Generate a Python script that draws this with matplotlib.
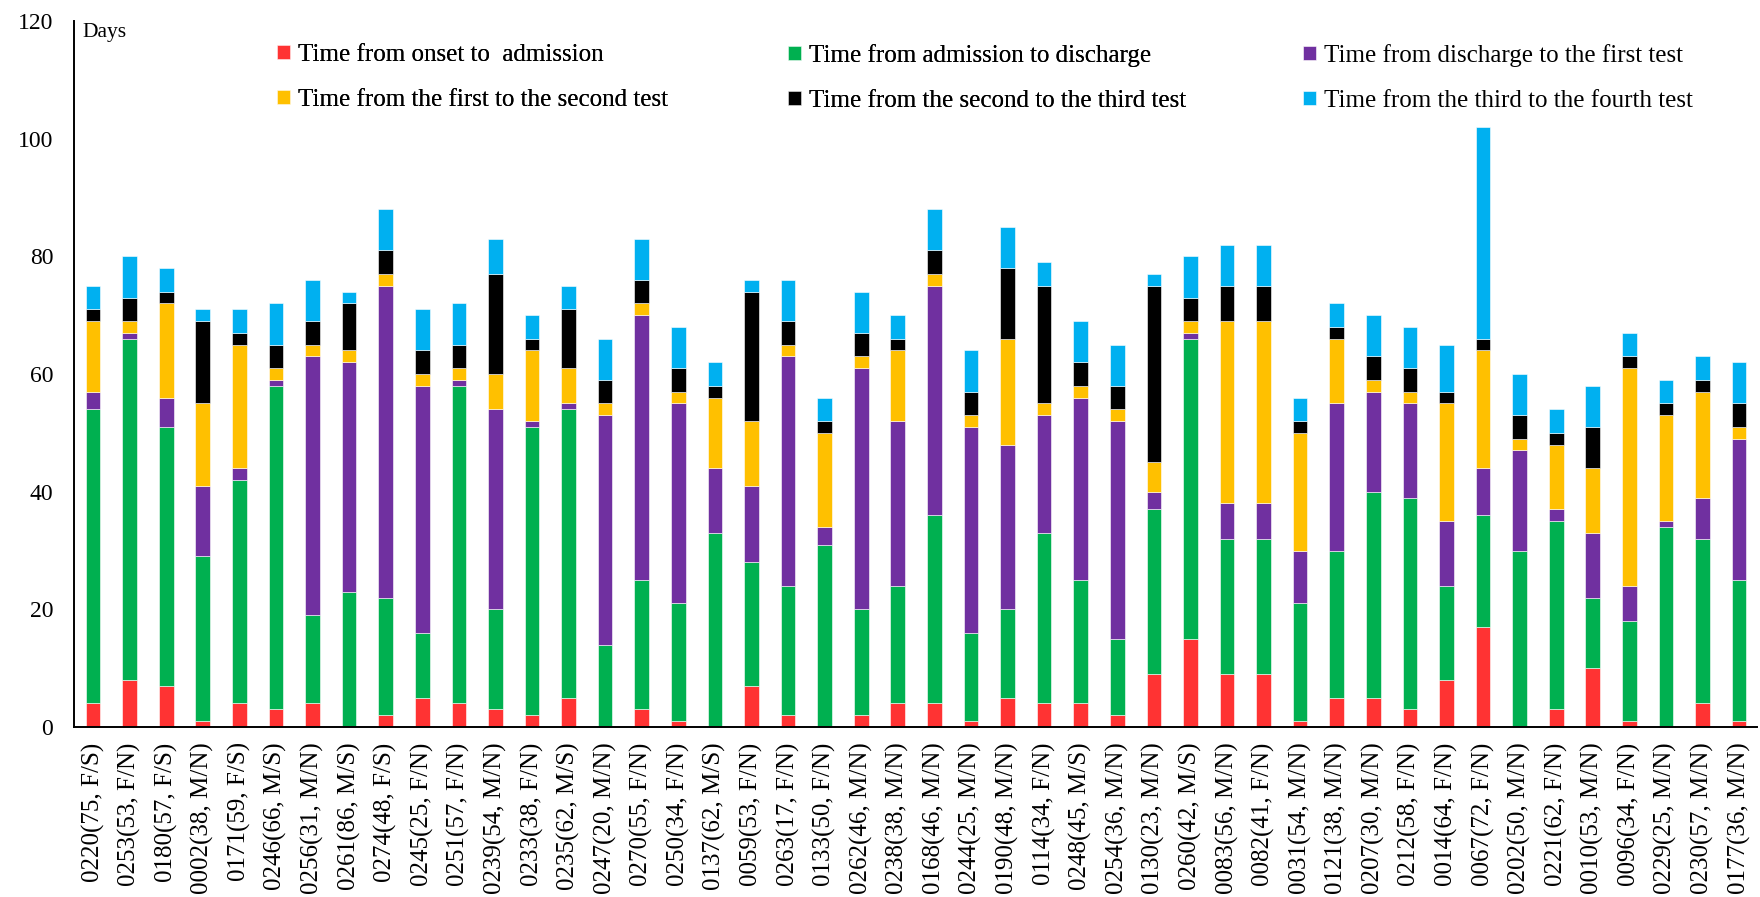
import matplotlib
matplotlib.use("Agg")
import matplotlib.pyplot as plt
from matplotlib.patches import Patch
import numpy as np

# patient labels (id(age, sex/severity))
patients = [
    "0220(75, F/S)", "0253(53, F/N)", "0180(57, F/S)", "0002(38, M/N)", "0171(59, F/S)",
    "0246(66, M/S)", "0256(31, M/N)", "0261(86, M/S)", "0274(48, F/S)", "0245(25, F/N)",
    "0251(57, F/N)", "0239(54, M/N)", "0233(38, F/N)", "0235(62, M/S)", "0247(20, M/N)",
    "0270(55, F/N)", "0250(34, F/N)", "0137(62, M/S)", "0059(53, F/N)", "0263(17, F/N)",
    "0133(50, F/N)", "0262(46, M/N)", "0238(38, M/N)", "0168(46, M/N)", "0244(25, M/N)",
    "0190(48, M/N)", "0114(34, F/N)", "0248(45, M/S)", "0254(36, M/N)", "0130(23, M/N)",
    "0260(42, M/S)", "0083(56, M/N)", "0082(41, F/N)", "0031(54, M/N)", "0121(38, M/N)",
    "0207(30, M/N)", "0212(58, F/N)", "0014(64, F/N)", "0067(72, F/N)", "0202(50, M/N)",
    "0221(62, F/N)", "0010(53, M/N)", "0096(34, F/N)", "0229(25, M/N)", "0230(57, M/N)",
    "0177(36, M/N)",
]

# days in each interval
onset_admission = [4, 8, 7, 1, 4, 3, 4, 0, 2, 5, 4, 3, 2, 5, 0, 3, 1, 0, 7, 2, 0, 2, 4,
                   4, 1, 5, 4, 4, 2, 9, 15, 9, 9, 1, 5, 5, 3, 8, 17, 0, 3, 10, 1, 0, 4, 1]
admission_discharge = [50, 58, 44, 28, 38, 55, 15, 23, 20, 11, 54, 17, 49, 49, 14, 22, 20,
                       33, 21, 22, 31, 18, 20, 32, 15, 15, 29, 21, 13, 28, 51, 23, 23, 20,
                       25, 35, 36, 16, 19, 30, 32, 12, 17, 34, 28, 24]
discharge_first = [3, 1, 5, 12, 2, 1, 44, 39, 53, 42, 1, 34, 1, 1, 39, 45, 34, 11, 13, 39,
                   3, 41, 28, 39, 35, 28, 20, 31, 37, 3, 1, 6, 6, 9, 25, 17, 16, 11, 8, 17,
                   2, 11, 6, 1, 7, 24]
first_second = [12, 2, 16, 14, 21, 2, 2, 2, 2, 2, 2, 6, 12, 6, 2, 2, 2, 12, 11, 2, 16, 2,
                12, 2, 2, 18, 2, 2, 2, 5, 2, 31, 31, 20, 11, 2, 2, 20, 20, 2, 11, 11, 37,
                18, 18, 2]
second_third = [2, 4, 2, 14, 2, 4, 4, 8, 4, 4, 4, 17, 2, 10, 4, 4, 4, 2, 22, 4, 2, 4, 2,
                4, 4, 12, 20, 4, 4, 30, 4, 6, 6, 2, 2, 4, 4, 2, 2, 4, 2, 7, 2, 2, 2, 4]
third_fourth = [4, 7, 4, 2, 4, 7, 7, 2, 7, 7, 7, 6, 4, 4, 7, 7, 7, 4, 2, 7, 4, 7, 4, 7,
                7, 7, 4, 7, 7, 2, 7, 7, 7, 4, 4, 7, 7, 8, 36, 7, 4, 7, 4, 4, 4, 7]

series = [
    ("Time from onset to  admission", onset_admission, "#FF3333"),
    ("Time from admission to discharge", admission_discharge, "#00B050"),
    ("Time from discharge to the first test", discharge_first, "#7030A0"),
    ("Time from the first to the second test", first_second, "#FFC000"),
    ("Time from the second to the third test", second_third, "#000000"),
    ("Time from the third to the fourth test", third_fourth, "#00B0F0"),
]

plt.rcParams["font.family"] = ["Liberation Serif", "DejaVu Serif"]

fig = plt.figure(figsize=(17.6, 8.97), dpi=100)
ax = fig.add_axes([0.04205, 0.18952, 0.95625, 0.78707])

x = np.arange(len(patients))
bottom = np.zeros(len(patients))
for label, vals, color in series:
    vals = np.array(vals, dtype=float)
    ax.bar(x, vals, width=0.40, bottom=bottom, color=color,
           edgecolor="white", linewidth=0.4, label=label)
    bottom += vals

ax.set_xlim(-0.52, 45.49)
ax.set_ylim(0, 120)
ax.set_yticks(np.arange(0, 121, 20))
ax.set_xticks(x)
ax.set_xticklabels(patients, rotation=90, fontsize=18)
ax.tick_params(axis="y", length=0, pad=15, labelsize=17)
ax.tick_params(axis="x", length=0, pad=11)

for side in ["top", "right"]:
    ax.spines[side].set_visible(False)
for side in ["left", "bottom"]:
    ax.spines[side].set_linewidth(1.4)
    ax.spines[side].set_color("black")

ax.text(0.0053, 0.997, "Days", transform=ax.transAxes, fontsize=15.5,
        ha="left", va="top")

# legend as 3 columns x 2 rows with equal column widths
handles = [Patch(facecolor=c, edgecolor="white", linewidth=0.4) for _, _, c in series]
labels = [s[0] for s in series]
col_x = [277 / 1760, 788 / 1760, 1303 / 1760]
for i, cx in enumerate(col_x):
    leg = fig.legend([handles[i], handles[i + 3]], [labels[i], labels[i + 3]],
                     loc="upper left", bbox_to_anchor=(cx, 1 - 44 / 897),
                     frameon=False, fontsize=18, borderpad=0, borderaxespad=0,
                     handlelength=0.5, handleheight=0.5, handletextpad=0.35,
                     labelspacing=0.93)
    if i < 2:
        fig.add_artist(leg)

fig.savefig("out.png", dpi=100)
